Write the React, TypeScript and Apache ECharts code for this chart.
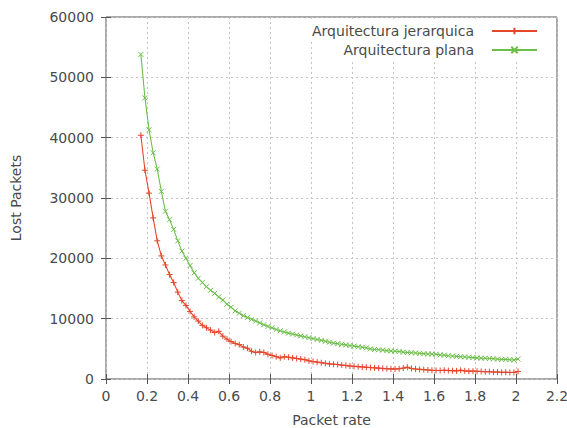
import React, { useEffect, useRef } from "react";
import * as echarts from "echarts";

const xs = [
  0.17, 0.19, 0.21, 0.23, 0.25, 0.27, 0.29, 0.31, 0.33, 0.35,
  0.37, 0.39, 0.41, 0.43, 0.45, 0.47, 0.49, 0.51, 0.53, 0.55,
  0.57, 0.59, 0.61, 0.63, 0.65, 0.67, 0.69, 0.71, 0.73, 0.75,
  0.77, 0.79, 0.81, 0.83, 0.85, 0.87, 0.89, 0.91, 0.93, 0.95,
  0.97, 0.99, 1.01, 1.03, 1.05, 1.07, 1.09, 1.11, 1.13, 1.15,
  1.17, 1.19, 1.21, 1.23, 1.25, 1.27, 1.29, 1.31, 1.33, 1.35,
  1.37, 1.39, 1.41, 1.43, 1.45, 1.47, 1.49, 1.51, 1.53, 1.55,
  1.57, 1.59, 1.61, 1.63, 1.65, 1.67, 1.69, 1.71, 1.73, 1.75,
  1.77, 1.79, 1.81, 1.83, 1.85, 1.87, 1.89, 1.91, 1.93, 1.95,
  1.97, 1.99, 2.01,
];

const jerarquica = [
  40400, 34600, 30800, 26700, 22900, 20400, 18900, 17300, 16000, 14400,
  13000, 12200, 11200, 10300, 9600, 8900, 8500, 8100, 7700, 7900,
  7100, 6600, 6200, 5900, 5700, 5300, 5100, 4600, 4400, 4500,
  4400, 4100, 3900, 3700, 3500, 3700, 3600, 3500, 3400, 3300,
  3200, 3000, 2900, 2800, 2700, 2600, 2500, 2450, 2400, 2300,
  2250, 2150, 2100, 2050, 2000, 1950, 1900, 1850, 1800, 1750,
  1700, 1680, 1650, 1700, 1800, 1950, 1750, 1650, 1600, 1550,
  1500, 1450, 1420, 1400, 1450, 1400, 1380, 1350, 1450, 1350,
  1300, 1300, 1280, 1250, 1200, 1220, 1150, 1150, 1100, 1120,
  1080, 1100, 1250,
];

const plana = [
  53800, 46600, 41300, 37500, 34800, 31100, 27800, 26400, 24800, 22900,
  21200, 20000, 18800, 17600, 16700, 16000, 15300, 14700, 14200, 13600,
  13100, 12400, 11900, 11300, 10900, 10500, 10200, 9900, 9600, 9300,
  9000, 8700, 8500, 8200, 8000, 7800, 7600, 7450, 7300, 7150,
  7000, 6850, 6700, 6550, 6400, 6250, 6100, 5950, 5850, 5750,
  5650, 5550, 5450, 5350, 5250, 5150, 5000, 4900, 4850, 4800,
  4700, 4650, 4600, 4550, 4450, 4400, 4350, 4300, 4250, 4200,
  4150, 4150, 4100, 4000, 3950, 3850, 3800, 3750, 3700, 3650,
  3600, 3550, 3500, 3450, 3450, 3400, 3350, 3300, 3250, 3250,
  3200, 3150, 3300,
];

const seriesNames = ["Arquitectura jerarquica", "Arquitectura plana"];
const xAxisName = "Packet rate";
const yAxisName = "Lost Packets";

const FONT = "DejaVu Sans";
const TEXT = "#4a4a4a";
const RED = "#e5462a";
const GREEN = "#6cc04a";
const PLUS = "path://M0,5L10,5M5,0L5,10";
const CROSS = "path://M0,0L10,10M10,0L0,10";

export default function App() {
  const ref = useRef<HTMLDivElement>(null);

  useEffect(() => {
    if (!ref.current) return;
    const chart = echarts.init(ref.current, undefined, { renderer: "svg" });

    const xFmt = (v: number) => String(Math.round(v * 10) / 10);
    const yFmt = (v: number) => String(v);

    const splitStyle = { show: true, lineStyle: { color: "#c4c4c4", type: [2, 3] as any, width: 1 } };

    const baseX = {
      type: "value" as const,
      min: 0,
      max: 2.2,
      interval: 0.2,
      axisLine: { show: false },
    };
    const baseY = {
      type: "value" as const,
      min: 0,
      max: 60000,
      interval: 10000,
      axisLine: { show: false },
    };

    const legendCommon = {
      orient: "horizontal" as const,
      align: "right" as const,
      right: 21,
      itemWidth: 45,
      itemHeight: 8,
      backgroundColor: "#ffffff",
      padding: [4, 8, 4, 8],
      textStyle: { fontFamily: FONT, fontSize: 14, color: TEXT, padding: [0, 13, 0, 0] },
    };

    chart.setOption({
      animation: false,
      backgroundColor: "#ffffff",
      textStyle: { fontFamily: FONT },
      grid: {
        left: 106,
        right: 10,
        top: 17,
        bottom: 49,
        containLabel: false,
        outerBoundsMode: "none",
        show: true,
        borderColor: "#555",
        borderWidth: 1,
        backgroundColor: "transparent",
      },
      legend: [
        { ...legendCommon, top: 20, data: [seriesNames[0]] },
        { ...legendCommon, top: 39, data: [seriesNames[1]] },
      ],
      xAxis: [
        {
          ...baseX,
          position: "bottom",
          name: xAxisName,
          nameLocation: "middle",
          nameGap: 34,
          nameTextStyle: { fontFamily: FONT, fontSize: 14, color: TEXT },
          axisTick: { show: true, inside: true, length: 5, lineStyle: { color: "#555" } },
          axisLabel: { formatter: xFmt, fontFamily: FONT, fontSize: 14, color: TEXT, margin: 10 },
          splitLine: splitStyle,
        },
        {
          ...baseX,
          position: "top",
          axisTick: { show: true, inside: true, length: 5, lineStyle: { color: "#555" } },
          axisLabel: { show: false },
          splitLine: { show: false },
        },
      ],
      yAxis: [
        {
          ...baseY,
          position: "left",
          name: yAxisName,
          nameLocation: "middle",
          nameGap: 83,
          nameTextStyle: { fontFamily: FONT, fontSize: 14, color: TEXT },
          axisTick: { show: true, inside: true, length: 5, lineStyle: { color: "#555" } },
          axisLabel: { formatter: yFmt, fontFamily: FONT, fontSize: 14, color: TEXT, margin: 12 },
          splitLine: splitStyle,
        },
        {
          ...baseY,
          position: "right",
          axisTick: { show: true, inside: true, length: 5, lineStyle: { color: "#555" } },
          axisLabel: { show: false },
          splitLine: { show: false },
        },
      ],
      series: [
        {
          name: seriesNames[0],
          type: "line",
          xAxisIndex: 0,
          yAxisIndex: 0,
          data: xs.map((x, i) => [x, jerarquica[i]]),
          symbol: PLUS,
          symbolSize: 6,
          showAllSymbol: true,
          lineStyle: { color: RED, width: 1.1 },
          itemStyle: { color: RED, borderColor: RED, borderWidth: 1 },
          z: 3,
        },
        {
          name: seriesNames[1],
          type: "line",
          xAxisIndex: 0,
          yAxisIndex: 0,
          data: xs.map((x, i) => [x, plana[i]]),
          symbol: CROSS,
          symbolSize: 5,
          showAllSymbol: true,
          lineStyle: { color: GREEN, width: 1.1 },
          itemStyle: { color: GREEN, borderColor: GREEN, borderWidth: 1 },
          z: 2,
        },
      ],
    });

    return () => chart.dispose();
  }, []);

  return (
    <div
      ref={ref}
      style={{ position: "fixed", left: 0, top: 0, width: 567, height: 428, background: "#fff" }}
    />
  );
}
